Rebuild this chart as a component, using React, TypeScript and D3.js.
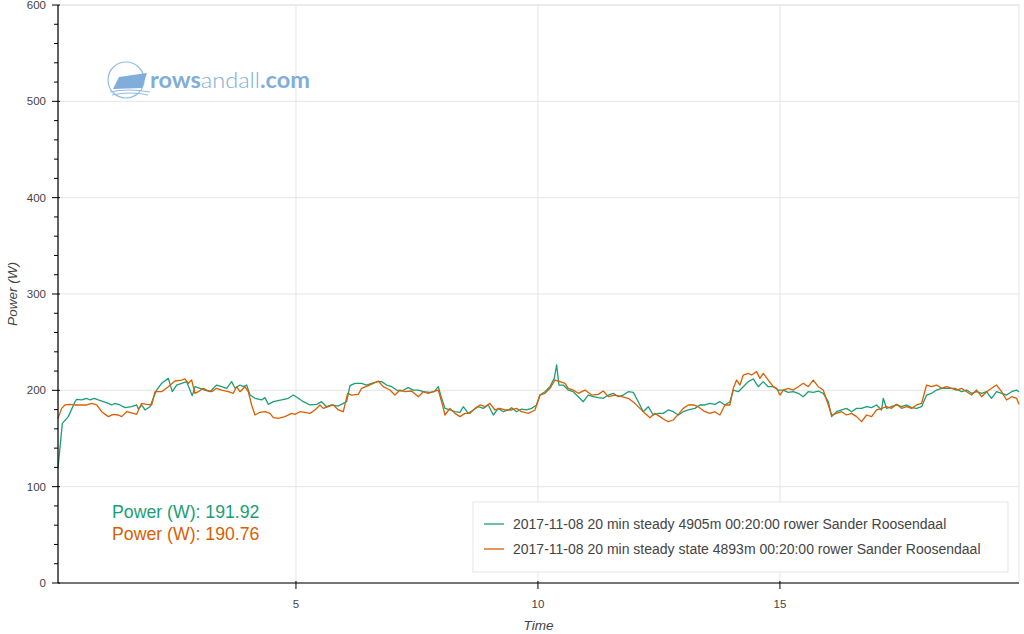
import React from "react";
import * as d3 from "d3";

const greenSeries: [number, number][] = [[0.083,119.0],[0.172,165.7],[0.296,172.7],[0.434,188.2],[0.468,190.6],[0.572,190.0],[0.675,191.7],[0.744,190.0],[0.833,191.7],[0.916,190.0],[1.019,188.2],[1.123,186.5],[1.191,184.8],[1.260,186.5],[1.364,184.8],[1.467,182.0],[1.605,183.0],[1.708,184.8],[1.742,180.6],[1.811,184.8],[1.880,179.6],[1.983,183.0],[2.052,191.7],[2.121,200.3],[2.224,207.3],[2.362,212.4],[2.445,198.6],[2.534,205.5],[2.638,207.3],[2.741,209.0],[2.858,194.5],[2.913,203.8],[3.017,202.1],[3.120,200.3],[3.223,198.6],[3.361,205.5],[3.464,203.8],[3.567,202.1],[3.671,209.0],[3.740,202.1],[3.843,205.5],[3.912,203.8],[3.981,205.5],[4.050,195.1],[4.153,191.7],[4.291,190.0],[4.360,192.4],[4.428,185.5],[4.532,188.2],[4.704,190.0],[4.842,191.7],[4.945,195.1],[5.048,191.7],[5.152,188.2],[5.289,184.8],[5.427,185.5],[5.530,188.2],[5.634,183.0],[5.737,184.8],[5.875,183.7],[5.978,186.5],[6.047,188.2],[6.116,204.8],[6.219,207.3],[6.357,207.3],[6.460,205.5],[6.563,207.3],[6.701,209.0],[6.770,209.0],[6.873,205.5],[6.977,203.8],[7.080,200.3],[7.183,199.3],[7.321,202.8],[7.424,200.3],[7.528,200.3],[7.631,198.6],[7.769,197.9],[7.858,198.6],[7.941,203.8],[8.010,191.7],[8.079,181.3],[8.182,179.6],[8.285,177.8],[8.388,177.2],[8.457,183.0],[8.561,176.1],[8.664,179.6],[8.767,183.0],[8.870,181.3],[8.974,184.8],[9.077,174.4],[9.180,181.3],[9.284,177.8],[9.387,179.6],[9.456,182.0],[9.559,177.8],[9.663,180.6],[9.766,179.6],[9.869,181.3],[9.972,184.8],[10.041,195.1],[10.145,198.6],[10.248,203.8],[10.337,212.4],[10.386,226.3],[10.434,205.5],[10.523,205.5],[10.626,200.3],[10.730,198.6],[10.833,193.4],[10.936,188.2],[11.040,195.1],[11.143,193.4],[11.246,192.4],[11.350,191.7],[11.453,195.1],[11.556,196.9],[11.660,193.4],[11.763,195.1],[11.866,198.6],[11.970,197.9],[12.073,188.2],[12.176,177.8],[12.280,183.0],[12.383,174.4],[12.486,176.1],[12.590,176.1],[12.693,179.6],[12.796,177.8],[12.900,174.4],[13.003,177.8],[13.106,179.6],[13.244,181.3],[13.347,184.8],[13.450,184.8],[13.554,186.5],[13.657,185.5],[13.760,188.2],[13.864,184.8],[13.967,188.2],[14.036,200.3],[14.139,198.6],[14.242,203.8],[14.346,209.0],[14.449,211.8],[14.552,203.8],[14.656,209.0],[14.759,203.8],[14.862,203.8],[14.966,200.3],[15.069,200.3],[15.172,197.9],[15.275,198.6],[15.379,196.9],[15.482,193.4],[15.585,198.6],[15.689,197.9],[15.792,199.3],[15.895,196.9],[15.999,188.2],[16.068,172.7],[16.171,177.8],[16.274,179.6],[16.377,181.3],[16.481,177.8],[16.584,181.3],[16.687,181.3],[16.791,183.0],[16.894,182.0],[16.997,184.8],[17.100,179.6],[17.135,191.7],[17.204,181.3],[17.307,183.0],[17.410,184.8],[17.514,183.0],[17.617,184.8],[17.720,182.0],[17.824,181.3],[17.927,183.0],[18.030,195.1],[18.134,196.9],[18.237,200.3],[18.340,202.1],[18.478,202.1],[18.616,202.1],[18.753,198.6],[18.857,200.3],[18.960,196.9],[19.063,198.6],[19.167,196.9],[19.270,198.6],[19.373,191.7],[19.477,198.6],[19.580,196.9],[19.683,195.1],[19.787,198.6],[19.890,200.3],[19.940,198.6]];

const orangeSeries: [number, number][] = [[0.083,170.9],[0.158,181.3],[0.227,184.8],[0.331,185.5],[0.434,184.8],[0.572,184.8],[0.675,184.8],[0.778,186.5],[0.882,184.8],[0.985,177.8],[1.123,172.7],[1.226,175.1],[1.329,174.4],[1.398,172.7],[1.501,177.8],[1.639,176.1],[1.708,175.1],[1.811,186.5],[1.915,185.5],[2.018,184.8],[2.087,198.6],[2.224,198.6],[2.362,203.8],[2.500,209.7],[2.638,210.7],[2.707,211.8],[2.776,207.3],[2.844,210.7],[2.913,196.9],[2.982,198.6],[3.085,202.1],[3.154,200.3],[3.257,198.6],[3.361,202.1],[3.464,200.3],[3.602,198.6],[3.705,196.9],[3.774,203.8],[3.843,198.6],[3.946,203.8],[4.015,198.6],[4.084,184.8],[4.153,174.4],[4.256,177.2],[4.360,177.8],[4.463,176.1],[4.532,171.6],[4.635,170.9],[4.773,172.7],[4.910,176.1],[4.979,175.1],[5.083,177.8],[5.186,177.2],[5.289,176.1],[5.393,179.6],[5.496,184.8],[5.565,181.3],[5.668,183.0],[5.771,184.8],[5.875,179.6],[5.978,177.8],[6.068,196.9],[6.150,195.1],[6.288,195.8],[6.357,202.1],[6.494,204.8],[6.598,207.3],[6.701,209.7],[6.804,203.8],[6.942,200.3],[7.045,195.1],[7.149,200.3],[7.252,198.6],[7.390,199.3],[7.528,193.4],[7.631,198.6],[7.734,196.9],[7.837,198.6],[7.941,200.3],[8.010,188.2],[8.079,174.4],[8.182,181.3],[8.285,176.1],[8.388,172.7],[8.492,176.1],[8.595,176.1],[8.698,181.3],[8.802,184.8],[8.905,183.0],[9.008,186.5],[9.112,179.6],[9.215,181.3],[9.318,179.6],[9.456,179.6],[9.559,181.3],[9.663,177.8],[9.800,176.1],[9.938,179.6],[10.041,195.1],[10.145,196.9],[10.248,202.1],[10.351,210.7],[10.455,209.0],[10.558,207.3],[10.626,202.1],[10.730,200.3],[10.833,196.9],[10.971,200.3],[11.109,195.1],[11.246,195.8],[11.350,199.3],[11.453,193.4],[11.591,195.1],[11.729,193.4],[11.866,191.7],[12.004,186.5],[12.107,181.3],[12.211,176.1],[12.314,171.6],[12.417,176.1],[12.521,172.7],[12.624,169.2],[12.693,167.5],[12.796,169.2],[12.900,175.1],[13.003,181.3],[13.106,184.8],[13.209,184.8],[13.313,183.0],[13.450,177.8],[13.554,176.1],[13.657,177.8],[13.760,174.4],[13.864,184.8],[13.967,184.8],[14.036,202.1],[14.105,210.7],[14.174,205.5],[14.242,215.9],[14.346,217.6],[14.415,215.9],[14.518,219.4],[14.587,212.4],[14.656,217.6],[14.759,210.7],[14.862,203.8],[14.931,202.1],[15.000,195.1],[15.069,200.3],[15.172,202.1],[15.275,200.3],[15.379,203.8],[15.482,207.3],[15.585,203.8],[15.689,210.7],[15.792,203.8],[15.895,200.3],[15.999,184.8],[16.068,174.4],[16.171,176.1],[16.274,177.8],[16.377,174.4],[16.481,176.1],[16.584,172.7],[16.687,167.5],[16.791,174.4],[16.894,172.7],[16.997,179.6],[17.100,181.3],[17.204,183.0],[17.307,181.3],[17.410,185.5],[17.514,181.3],[17.617,183.0],[17.720,181.3],[17.824,184.8],[17.927,186.5],[18.030,205.5],[18.134,203.8],[18.237,205.5],[18.340,202.1],[18.443,203.8],[18.547,202.1],[18.650,200.3],[18.753,202.1],[18.857,198.6],[18.960,195.1],[19.063,200.3],[19.167,193.4],[19.270,198.6],[19.373,202.1],[19.477,205.5],[19.580,198.6],[19.683,190.0],[19.787,193.4],[19.890,191.7],[19.940,185.5]];

const seriesNames = [
  "2017-11-08 20 min steady 4905m 00:20:00 rower Sander Roosendaal",
  "2017-11-08 20 min steady state 4893m 00:20:00 rower Sander Roosendaal",
];
const seriesColors = ["#1b9e77", "#d95f02"];
const averageLabels = ["Power (W): 191.92", "Power (W): 190.76"];
const yTicks = [0, 100, 200, 300, 400, 500, 600];
const xTicks = [5, 10, 15];
const xDomain: [number, number] = [0.083, 19.94];
const yDomain: [number, number] = [0, 600];

const FONT = "'Liberation Sans', Arial, Helvetica, sans-serif";

export default function App() {
  const left = 58, right = 1019, top = 5, bottom = 583;
  const x = d3.scaleLinear().domain(xDomain).range([left, right]);
  const y = d3.scaleLinear().domain(yDomain).range([bottom, top]);
  const line = d3.line<[number, number]>().x((d) => x(d[0])).y((d) => y(d[1]));
  const minorY = d3.range(0, 601, 20).filter((v) => v % 100 !== 0);
  const all = [greenSeries, orangeSeries];

  return (
    <svg width={1024} height={634} style={{ position: "absolute", left: 0, top: 0, background: "#fff" }} fontFamily={FONT}>
      <rect x={0} y={0} width={1024} height={634} fill="#fff" />
      {/* grid */}
      {yTicks.map((t) => (
        <line key={"gy" + t} x1={left} x2={right} y1={y(t)} y2={y(t)} stroke="#e5e5e5" strokeWidth={1} />
      ))}
      {xTicks.map((t) => (
        <line key={"gx" + t} x1={x(t)} x2={x(t)} y1={top} y2={bottom} stroke="#e5e5e5" strokeWidth={1} />
      ))}
      <rect x={left} y={top} width={right - left} height={bottom - top} fill="none" stroke="#e5e5e5" strokeWidth={1} />

      {/* logo */}
      <g opacity={0.85}>
        <circle cx={126} cy={80} r={18} fill="none" stroke="#7fb2e0" strokeWidth={1.2} />
        <polygon points="113,89 119,77 147,73 142,88" fill="#6a9fd3" />
        <path d="M110,92 Q128,88 150,92" fill="none" stroke="#7fb2e0" strokeWidth={1.2} />
        <path d="M112,95 Q130,91 148,95" fill="none" stroke="#7fb2e0" strokeWidth={1} />
        <text x={150} y={88} fontFamily="Lato, 'Open Sans', sans-serif" fontSize={22} fill="#6a9fd3" textLength={160} lengthAdjust="spacingAndGlyphs">
          <tspan fontWeight={700}>rows</tspan>
          <tspan fontWeight={300}>andall</tspan>
          <tspan fontWeight={700}>.com</tspan>
        </text>
      </g>

      {/* series */}
      {all.map((s, i) => (
        <path key={"s" + i} d={line(s) || ""} fill="none" stroke={seriesColors[i]} strokeWidth={1.3} strokeLinejoin="round" />
      ))}

      {/* y axis */}
      <line x1={left} x2={left} y1={top} y2={bottom} stroke="#000" strokeWidth={1.2} />
      {yTicks.map((t) => (
        <g key={"yt" + t}>
          <line x1={left - 6} x2={left + 2} y1={y(t)} y2={y(t)} stroke="#000" strokeWidth={1} />
          <text x={left - 12} y={y(t) + 4} textAnchor="end" fontSize={11.5} fill="#444">{t}</text>
        </g>
      ))}
      {minorY.map((t) => (
        <line key={"ym" + t} x1={left - 4} x2={left} y1={y(t)} y2={y(t)} stroke="#000" strokeWidth={1} />
      ))}
      <text transform={`translate(17,${(top + bottom) / 2}) rotate(-90)`} textAnchor="middle" fontSize={13.5} fontStyle="italic" fill="#444">Power (W)</text>

      {/* x axis */}
      <line x1={left} x2={right} y1={bottom} y2={bottom} stroke="#000" strokeWidth={1.2} />
      {xTicks.map((t) => (
        <g key={"xt" + t}>
          <line x1={x(t)} x2={x(t)} y1={bottom - 2} y2={bottom + 6} stroke="#000" strokeWidth={1} />
          <text x={x(t)} y={bottom + 25} textAnchor="middle" fontSize={11.5} fill="#444">{t}</text>
        </g>
      ))}
      <text x={(left + right) / 2} y={630} textAnchor="middle" fontSize={13.5} fontStyle="italic" fill="#444">Time</text>

      {/* average labels */}
      {averageLabels.map((lab, i) => (
        <text key={"a" + i} x={112} y={518 + i * 22} fontSize={17.7} fill={seriesColors[i]}>{lab}</text>
      ))}

      {/* legend */}
      <rect x={473} y={502} width={535} height={70} fill="#fff" fillOpacity={0.95} stroke="#e5e5e5" strokeWidth={1} />
      {seriesNames.map((n, i) => (
        <g key={"l" + i}>
          <line x1={484} x2={504} y1={524 + i * 25} y2={524 + i * 25} stroke={seriesColors[i]} strokeWidth={1.3} />
          <text x={513} y={529 + i * 25} fontSize={14} fill="#444">{n}</text>
        </g>
      ))}
    </svg>
  );
}
